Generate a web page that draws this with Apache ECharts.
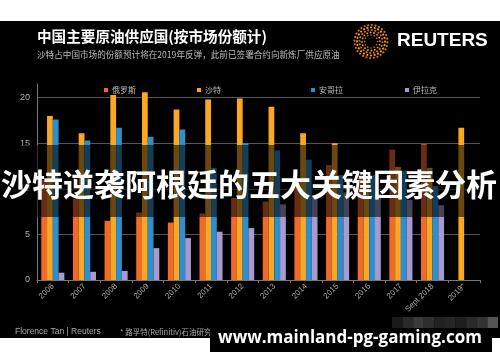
<!DOCTYPE html>
<html><head><meta charset="utf-8">
<script src="https://cdn.jsdelivr.net/npm/echarts@6/dist/echarts.min.js"></script>
<style>html,body{margin:0;padding:0;background:#fff}#c{width:500px;height:362px}</style>
</head><body><div id="c"></div>
<script>
// ---- data ----
const categories = ['2006','2007','2008','2009','2010','2011','2012','2013','2014','2015','2016','2017','Sept 2018','2019*'];
const russia = [11.0, 8.9, 6.5, 7.4, 6.3, 7.3, 9.0, 8.6, 10.8, 12.6, 11.5, 14.3, 14.9, null];
const saudi  = [18.0, 16.1, 20.3, 20.6, 18.7, 19.8, 19.9, 19.0, 16.1, 15.0, 11.2, 12.4, 12.3, 16.7];
const angola = [17.6, 15.3, 16.7, 15.7, 16.5, 12.3, 15.0, 14.2, 13.2, 11.5, 11.5, 12.0, 10.3, null];
const iraq   = [0.8, 0.9, 1.0, 3.5, 4.6, 5.3, 5.7, 8.3, 9.3, 9.6, 9.5, 8.8, 8.2, null];
const seriesNames = ['俄罗斯','沙特','安哥拉','伊拉克'];
const yTicks = [0, 5, 10, 15, 20];

const CJK = '"Noto Sans CJK SC", "Liberation Sans", sans-serif';
const LAT = '"Liberation Sans", Arial, sans-serif';
const colors = ['#F06A2A', '#F9A825', '#2B8FD0', '#A899CF'];

const chart = echarts.init(document.getElementById('c'), null, {renderer: 'canvas'});

// decorative Reuters logo (dots in rings)
const logo = [];
const rings = [[6.5, 12, 0.8], [9, 16, 0.95], [11.5, 20, 1.05], [14, 24, 1.1], [16.5, 28, 1.1]];
rings.forEach(([r, n, s], ri) => {
  for (let i = 0; i < n; i++) {
    const a = 2 * Math.PI * i / n + ri * 0.35;
    logo.push({type: 'circle', z: 10,
      shape: {cx: 371 + r * Math.cos(a), cy: 41.5 + r * Math.sin(a), r: s},
      style: {fill: ri % 2 ? '#F2A024' : '#DD6E1A'}});
  }
});

// pixelated grey mosaic (decoration)
const mosaic = [];
const shades = ['#1a1a1a','#2a2a2a','#3a3a3a','#2e2e2e','#222','#262626','#1e1e1e','#2a2a2a','#333','#555'];
shades.forEach((c, i) => mosaic.push({type: 'rect', z: 104,
  shape: {x: 392 + i * 10.6, y: 317, width: 10.6, height: 11}, style: {fill: c}}));

function bar(i, data) {
  return {name: seriesNames[i], type: 'bar', data: data, itemStyle: {color: colors[i]},
    barGap: '0%', barCategoryGap: '27%', z: 2};
}
const legendLefts = [99, 192, 306, 400];

chart.setOption({
  backgroundColor: '#000',
  animation: false,
  grid: {left: 37, right: 20, top: 84, bottom: 82},
  legend: seriesNames.map((n, i) => ({
    data: [n], left: legendLefts[i], top: 81, icon: 'rect', itemWidth: 4, itemHeight: 4,
    itemGap: 4, textStyle: {color: '#bbb', fontSize: 8, fontFamily: CJK, padding: [0, 0, 0, -1]}
  })),
  xAxis: {
    type: 'category', data: categories,
    axisLine: {lineStyle: {color: '#777'}},
    axisTick: {show: true, length: 3, lineStyle: {color: '#777'}},
    axisLabel: {rotate: 45, color: '#aaa', fontSize: 8, margin: 5, interval: 0, fontFamily: LAT}
  },
  yAxis: {
    type: 'value', min: 0, max: 21.5, interval: 5,
    axisLine: {show: true, lineStyle: {color: '#777'}},
    axisTick: {show: false},
    axisLabel: {color: '#aaa', fontSize: 9, margin: 7, fontFamily: LAT, showMaxLabel: false,
      formatter: v => (yTicks.indexOf(v) >= 0 ? String(v) : '')},
    splitLine: {show: true, showMaxLine: false, showMinLine: false, lineStyle: {color: '#555', width: 1}}
  },
  series: [bar(0, russia), bar(1, saudi), bar(2, angola), bar(3, iraq)],
  graphic: [
    {type: 'rect', shape: {x: 0, y: 0, width: 500, height: 21}, style: {fill: '#fff'}},
    {type: 'rect', shape: {x: 0, y: 338, width: 500, height: 24}, style: {fill: '#fff'}},
    {type: 'text', x: 37, y: 36.5, style: {text: '中国主要原油供应国(按市场份额计)', fill: '#fff',
      font: 'bold 14.6px ' + CJK, verticalAlign: 'middle'}},
    {type: 'text', x: 37, y: 55, style: {text: '沙特占中国市场的份额预计将在2019年反弹，此前已签署合约向新炼厂供应原油',
      fill: '#bbb', font: '8.6px ' + CJK, verticalAlign: 'middle'}},
    {type: 'text', x: 397, y: 41, style: {text: 'REUTERS', fill: '#fff',
      font: 'bold 19px ' + LAT, verticalAlign: 'middle'}},
    ...logo,
    {type: 'text', x: 15, y: 332, style: {text: 'Florence Tan | Reuters', fill: '#aaa',
      font: '8.5px ' + LAT, verticalAlign: 'middle'}},
    {type: 'text', x: 120, y: 332, style: {text: '* 路孚特(Refinitiv)石油研究2019年预估', fill: '#aaa',
      font: '7.5px ' + CJK, verticalAlign: 'middle'}},
    {type: 'rect', z: 100, shape: {x: 0, y: 145, width: 500, height: 72}, style: {fill: 'rgba(0,0,0,0.57)'}},
    {type: 'text', z: 101, x: 249, y: 184, style: {text: '沙特逆袭阿根廷的五大关键因素分析', fill: '#fff',
      font: 'bold 31px ' + CJK, align: 'center', verticalAlign: 'middle'}},
    {type: 'rect', z: 102, shape: {x: 210, y: 328, width: 282, height: 24}, style: {fill: '#000'}},
    ...mosaic,
    {type: 'text', z: 103, x: 350, y: 338, style: {text: 'www.mainland-pg-gaming.com', fill: '#fff',
      font: 'bold 17px "Open Sans", "Noto Sans", sans-serif', align: 'center', verticalAlign: 'middle'}}
  ]
});
</script></body></html>
